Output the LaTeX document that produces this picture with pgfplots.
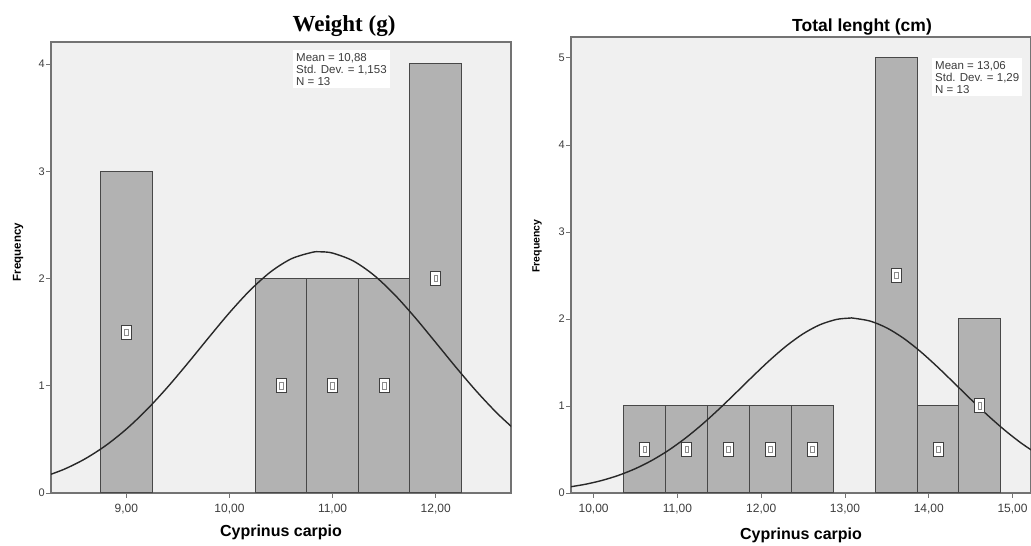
\documentclass[border=0pt]{standalone}
\usepackage{pgfplots}
\pgfplotsset{compat=1.18}
\usepackage{fontspec}
\setmainfont{Liberation Sans}
\newfontfamily\serifb{Liberation Serif}
\definecolor{bgc}{RGB}{240,240,240}
\definecolor{barc}{RGB}{178,178,178}
\definecolor{edgec}{RGB}{72,72,72}
\definecolor{framec}{RGB}{115,115,115}
\definecolor{curvec}{RGB}{40,40,40}
\definecolor{tickc}{RGB}{60,60,60}
\pgfplotsset{
  spss/.style={
    scale only axis,
    axis background/.style={fill=bgc},
    axis line style={draw=framec, line width=1.2pt},
    tick pos=left, tick align=outside, major tick length=5pt,
    tick style={draw=framec, line width=0.8pt},
    ticklabel style={text=tickc},
    xticklabel style={font=\fontsize{12}{12}\selectfont, yshift=-3pt},
    yticklabel style={font=\fontsize{11}{11}\selectfont, inner xsep=1pt},
    /pgf/number format/assume math mode=true,
    minor tick num=0,
  },
  histbar/.style={ybar interval, fill=barc, draw=edgec, line width=1pt},
  normcurve/.style={smooth, draw=curvec, line width=1.4pt, mark=none},
  lblbox/.style={only marks, mark=square*, mark size=5pt,
    mark options={fill=white, draw=black!75, line width=1pt, yscale=1.4}},
  lblin/.style={only marks, mark=square, mark size=1.8pt,
    mark options={draw=black!45, line width=0.6pt, yscale=1.8}},
}
\begin{document}
\begin{tikzpicture}[x=1pt,y=1pt]
\path[use as bounding box] (0,0) rectangle (1031,546);
% ---------------- Left: Weight ----------------
\begin{axis}[spss,
  at={(51pt,53pt)}, anchor=south west, width=460pt, height=451pt,
  xmin=8.27, xmax=12.73, ymin=0, ymax=4.205,
  xtick={9,10,11,12}, xticklabels={{9,00},{10,00},{11,00},{12,00}},
  ytick={0,1,2,3,4},
]
\addplot[histbar] coordinates {(8.75,3) (9.25,3)};
\addplot[histbar] coordinates {(10.25,2) (10.75,2) (11.25,2) (11.75,4) (12.25,4)};
\addplot[normcurve] coordinates {
(8.2,0.1509) (8.4,0.2225) (8.6,0.3183) (8.8,0.4419) (9.0,0.5952) (9.2,0.7780)
(9.4,0.9868) (9.6,1.2145) (9.8,1.4503) (10.0,1.6808) (10.2,1.8900) (10.4,2.0623)
(10.6,2.1836) (10.8,2.2436) (10.88,2.2490) (11.0,2.2369) (11.2,2.1640) (11.4,2.0315)
(11.6,1.8506) (11.8,1.6359) (12.0,1.4031) (12.2,1.1679) (12.4,0.9432) (12.6,0.7392)
(12.8,0.5621)};
\addplot[lblbox] coordinates {(9,1.5) (10.5,1) (11,1) (11.5,1) (12,2)};
\addplot[lblin] coordinates {(9,1.5) (10.5,1) (11,1) (11.5,1) (12,2)};
\end{axis}
% ---------------- Right: Total length ----------------
\begin{axis}[spss,
  at={(571pt,53pt)}, anchor=south west, width=460pt, height=456pt,
  xmin=9.73, xmax=15.22, ymin=0, ymax=5.24,
  xtick={10,11,12,13,14,15}, xticklabels={{10,00},{11,00},{12,00},{13,00},{14,00},{15,00}},
  ytick={0,1,2,3,4,5},
]
\addplot[histbar] coordinates {(10.36,1) (10.86,1) (11.36,1) (11.86,1) (12.36,1) (12.86,1)};
\addplot[histbar] coordinates {(13.36,5) (13.86,1) (14.36,2) (14.86,2)};
\addplot[normcurve] coordinates {
(9.7,0.0676) (9.9,0.1000) (10.1,0.1445) (10.3,0.2038) (10.5,0.2805) (10.7,0.3771)
(10.9,0.4947) (11.1,0.6337) (11.3,0.7925) (11.5,0.9674) (11.7,1.1531) (11.9,1.3416)
(12.1,1.5238) (12.3,1.6898) (12.5,1.8292) (12.7,1.9332) (12.9,1.9946) (13.06,2.0100)
(13.1,2.0090) (13.3,1.9755) (13.5,1.8964) (13.7,1.7772) (13.9,1.6261) (14.1,1.4523)
(14.3,1.2663) (14.5,1.0780) (14.7,0.8958) (14.9,0.7268) (15.1,0.5756) (15.3,0.4451)};
\addplot[lblbox] coordinates {(10.61,0.5) (11.11,0.5) (11.61,0.5) (12.11,0.5) (12.61,0.5) (13.61,2.5) (14.11,0.5) (14.61,1)};
\addplot[lblin] coordinates {(10.61,0.5) (11.11,0.5) (11.61,0.5) (12.11,0.5) (12.61,0.5) (13.61,2.5) (14.11,0.5) (14.61,1)};
\end{axis}
% ---------------- Texts ----------------
\node[font=\serifb\bfseries\fontsize{23}{23}\selectfont, anchor=base] at (344,514) {Weight (g)};
\node[font=\bfseries\fontsize{17.5}{17.5}\selectfont, anchor=base] at (862,514) {Total lenght (cm)};
\node[font=\bfseries\fontsize{16}{16}\selectfont, anchor=base] at (281,9) {Cyprinus carpio};
\node[font=\bfseries\fontsize{16}{16}\selectfont, anchor=base] at (801,6) {Cyprinus carpio};
\node[font=\bfseries\fontsize{11.5}{11.5}\selectfont, rotate=90] at (18,294) {Frequency};
\node[font=\bfseries\fontsize{10.5}{10.5}\selectfont, rotate=90] at (537,300) {Frequency};
\node[anchor=north west, fill=white, inner sep=3pt, align=left, text=tickc,
  font=\fontsize{11.5}{12}\selectfont] at (293,496) {Mean = 10,88\\Std. Dev. = 1,153\\N = 13};
\node[anchor=north west, fill=white, inner sep=3pt, align=left, text=tickc,
  font=\fontsize{11.5}{12}\selectfont] at (932,488) {Mean = 13,06\\Std. Dev. = 1,29\\N = 13};
\end{tikzpicture}
\end{document}
